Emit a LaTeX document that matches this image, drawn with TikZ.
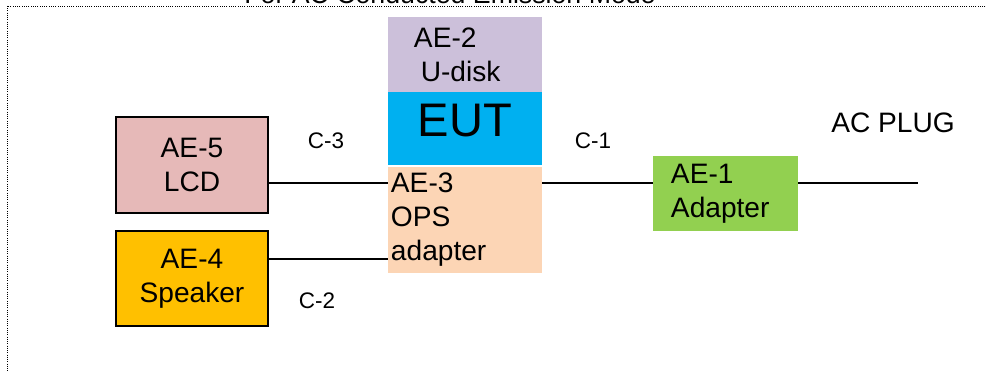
\documentclass[tikz,border=0pt]{standalone}
\usepackage{fontspec}
\setmainfont{Liberation Sans}
\usetikzlibrary{positioning, calc}
\definecolor{udiskfill}{HTML}{CCC0DA}
\definecolor{eutfill}{HTML}{00B0F0}
\definecolor{opsfill}{HTML}{FCD5B5}
\definecolor{lcdfill}{HTML}{E6B9B8}
\definecolor{spkfill}{HTML}{FFC000}
\definecolor{adpfill}{HTML}{92D050}
\tikzset{
    box/.style={inner sep=0pt, outer sep=0pt, font=\fontsize{20}{24.2}\selectfont},
    aebox/.style={box, draw=black, line width=.9pt, align=center,
        minimum width=3.8cm, minimum height=2.4cm},
    cable/.style={line width=.9pt},
    lbl/.style={inner sep=0pt, font=\fontsize{16}{18}\selectfont}
}

\begin{document}
\begin{tikzpicture}[x=0.025cm, y=-0.025cm]
    \useasboundingbox (0, 0) rectangle (987, 372);
    % dotted frame
    \draw[densely dotted, line width=.6pt] (7, 6) rectangle (1010, 400);
    \node[anchor=base, box, font=\fontsize{19}{22}\selectfont] (title) at (450, 4) {For AC Conducted Emission Mode};
    % EUT stack
    \node[box, fill=udiskfill, minimum width=3.85cm, minimum height=1.875cm,
        text width=2.55cm, align=left] (udisk) at (465, 54.5) {AE-2\\\hspace*{.17cm}U-disk};
    \node[box, fill=eutfill, minimum width=3.85cm, minimum height=1.825cm,
        font=\fontsize{33.5}{40}\selectfont, text height=24.4pt, text depth=13pt] (eut) at (465, 128.5) {EUT};
    \node[box, fill=opsfill, minimum width=3.85cm, minimum height=2.65cm,
        text width=3.7cm, align=left] (ops) at (465, 220) {AE-3\\OPS\\adapter};
    % auxiliary equipment
    \node[aebox, fill=lcdfill] (lcd) at (192, 165) {AE-5\\LCD};
    \node[aebox, fill=spkfill, minimum height=2.375cm] (spk) at (192, 278.5) {AE-4\\Speaker};
    \node[box, fill=adpfill, minimum width=3.625cm, minimum height=1.875cm,
        text width=2.725cm, align=left] (adp) at (725.5, 193.5) {AE-1\\Adapter};
    \coordinate (plug) at (918, 183);
    \node[box] (plugtxt) at (893, 123) {AC PLUG};
    % cables
    \draw[cable] (lcd.east |- 0, 183) -- (ops.west |- 0, 183);
    \draw[cable] (spk.east |- 0, 259) -- (ops.west |- 0, 259);
    \draw[cable] (ops.east |- 0, 183) -- (adp.west |- 0, 183);
    \draw[cable] (adp.east |- plug) -- (plug);
    \node[lbl] (c3) at (326, 141) {C-3};
    \node[lbl] (c2) at (317, 301) {C-2};
    \node[lbl] (c1) at (593, 141) {C-1};
\end{tikzpicture}
\end{document}
